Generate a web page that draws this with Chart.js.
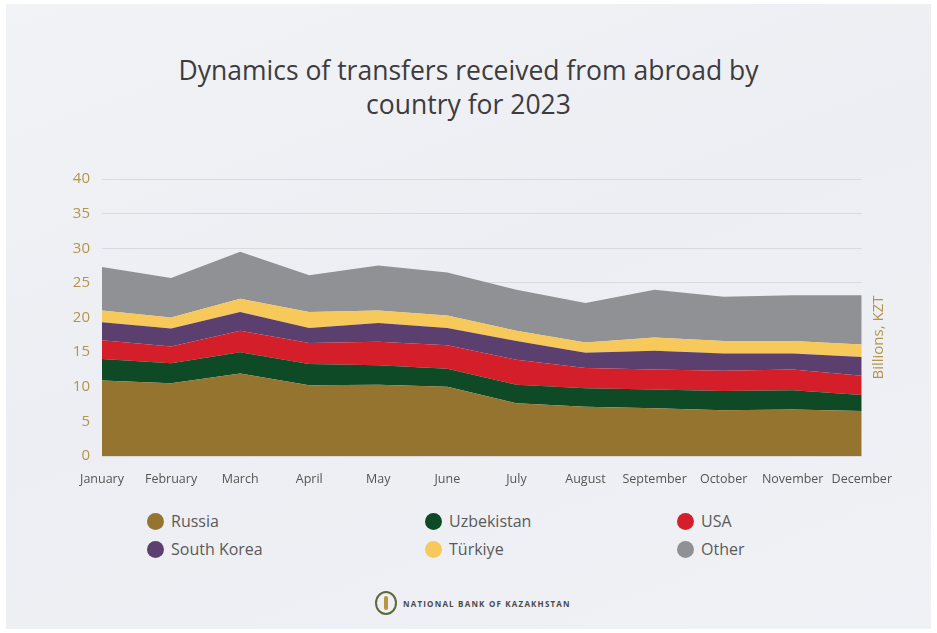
<!DOCTYPE html>
<html>
<head>
<meta charset="utf-8">
<script src="https://cdn.jsdelivr.net/npm/chart.js@4.4.0/dist/chart.umd.min.js"></script>
<style>
  html, body { margin: 0; padding: 0; }
  body { width: 937px; height: 633px; background: #ffffff; position: relative; overflow: hidden; font-family: "Open Sans", "Noto Sans", sans-serif; }
  #panel { position: absolute; left: 6px; top: 4px; right: 6px; bottom: 4px;
    background: linear-gradient(160deg, #f2f3f6 0%, #eceef3 45%, #f0f1f5 100%); }
  #title { position: absolute; left: 0; width: 937px; top: 53px; text-align: center; color: #3c3c3e;
    font-size: 26.5px; line-height: 34px; font-weight: 400; }
  #wrap { position: absolute; left: 60px; top: 158px; width: 840px; height: 337px; }
  .leg { position: absolute; font-size: 16px; color: #5a5a5a; display: flex; align-items: center; }
  .dot { width: 17px; height: 17px; border-radius: 50%; margin-right: 7px; }
  #footer { position: absolute; left: 375px; top: 591px; display: flex; align-items: center; }
  #emb { width: 22px; height: 24px; border-radius: 50%; border: 2px solid #5b6b3a; box-sizing: border-box; position: relative; }
  #emb:after { content: ""; position: absolute; left: 7px; top: 3px; width: 4px; height: 14px; background: #b8953e; border-radius: 2px; }
  #ftext { margin-left: 6px; font-size: 8px; font-weight: 700; letter-spacing: 1.2px; color: #4a4a4a; }
</style>
</head>
<body>
<div id="panel"></div>
<div id="title">Dynamics of transfers received from abroad by<br>country for 2023</div>
<div id="wrap"><canvas id="c"></canvas></div>
<div id="legend"></div>
<div id="footer"><div id="emb"></div><div id="ftext">NATIONAL BANK OF KAZAKHSTAN</div></div>
<script>
const months = ["January","February","March","April","May","June","July","August","September","October","November","December"];
const russia      = [10.9, 10.5, 11.9, 10.2, 10.3, 10.0, 7.6, 7.1, 6.9, 6.6, 6.7, 6.5];
const uzbekistan  = [3.1, 2.9, 3.1, 3.1, 2.8, 2.6, 2.7, 2.7, 2.7, 2.8, 2.8, 2.3];
const usa         = [2.7, 2.4, 3.1, 3.0, 3.4, 3.4, 3.6, 2.9, 2.9, 2.9, 3.0, 2.8];
const southKorea  = [2.6, 2.6, 2.7, 2.2, 2.7, 2.5, 2.7, 2.2, 2.7, 2.5, 2.3, 2.7];
const turkiye     = [1.7, 1.6, 1.9, 2.3, 1.8, 1.8, 1.5, 1.5, 1.9, 1.8, 1.8, 1.8];
const other       = [6.3, 5.7, 6.8, 5.3, 6.5, 6.2, 5.9, 5.7, 6.9, 6.4, 6.6, 7.1];
const yTicks = [0, 5, 10, 15, 20, 25, 30, 35, 40];
const unitLabel = "Billions, KZT";

const series = [
  { name: "Russia", data: russia, color: "#95742f" },
  { name: "Uzbekistan", data: uzbekistan, color: "#0e4a25" },
  { name: "USA", data: usa, color: "#d41f2a" },
  { name: "South Korea", data: southKorea, color: "#5a3f6f" },
  { name: "Türkiye", data: turkiye, color: "#f7c85a" },
  { name: "Other", data: other, color: "#8f9195" }
];

const rightTitle = {
  id: "rightTitle",
  afterDraw(chart) {
    const { ctx, chartArea } = chart;
    ctx.save();
    ctx.translate(chartArea.right + 17, (chartArea.top + chartArea.bottom) / 2 + 20);
    ctx.rotate(-Math.PI / 2);
    ctx.fillStyle = "#b39449";
    ctx.font = "15px 'Open Sans', sans-serif";
    ctx.textAlign = "center";
    ctx.textBaseline = "middle";
    ctx.fillText(unitLabel, 0, 0);
    ctx.restore();
  }
};

new Chart(document.getElementById("c"), {
  type: "line",
  data: {
    labels: months,
    datasets: series.map((s, i) => ({
      label: s.name,
      data: s.data,
      backgroundColor: s.color,
      borderColor: s.color,
      borderWidth: 0,
      pointRadius: 0,
      tension: 0,
      fill: i === 0 ? "origin" : "-1"
    }))
  },
  options: {
    responsive: true,
    maintainAspectRatio: false,
    animation: false,
    layout: { padding: { right: 10, top: 0, bottom: 0 } },
    plugins: { legend: { display: false }, tooltip: { enabled: false } },
    scales: {
      x: {
        offset: false,
        grid: { display: false },
        border: { display: false },
        ticks: { color: "#555", font: { size: 12.5, family: "'Open Sans', sans-serif" }, maxRotation: 0, autoSkip: false, padding: 8 }
      },
      y: {
        stacked: true,
        min: 0, max: 40,
        afterBuildTicks: (scale) => { scale.ticks = yTicks.map(v => ({ value: v })); },
        afterFit: (scale) => { scale.width = 42; },
        grid: { color: "#d8dadf", lineWidth: 1, drawTicks: false },
        border: { display: false },
        ticks: { color: "#b39449", font: { size: 15, family: "'Open Sans', sans-serif" }, padding: 12 }
      }
    }
  },
  plugins: [rightTitle]
});

const legendPos = [[147, 510], [425, 510], [677, 510], [147, 538], [425, 538], [677, 538]];
const legEl = document.getElementById("legend");
series.forEach((s, i) => {
  const d = document.createElement("div");
  d.className = "leg";
  d.style.left = legendPos[i][0] + "px";
  d.style.top = legendPos[i][1] + "px";
  d.innerHTML = '<span class="dot" style="background:' + s.color + '"></span>' + s.name;
  legEl.appendChild(d);
});
</script>
</body>
</html>
